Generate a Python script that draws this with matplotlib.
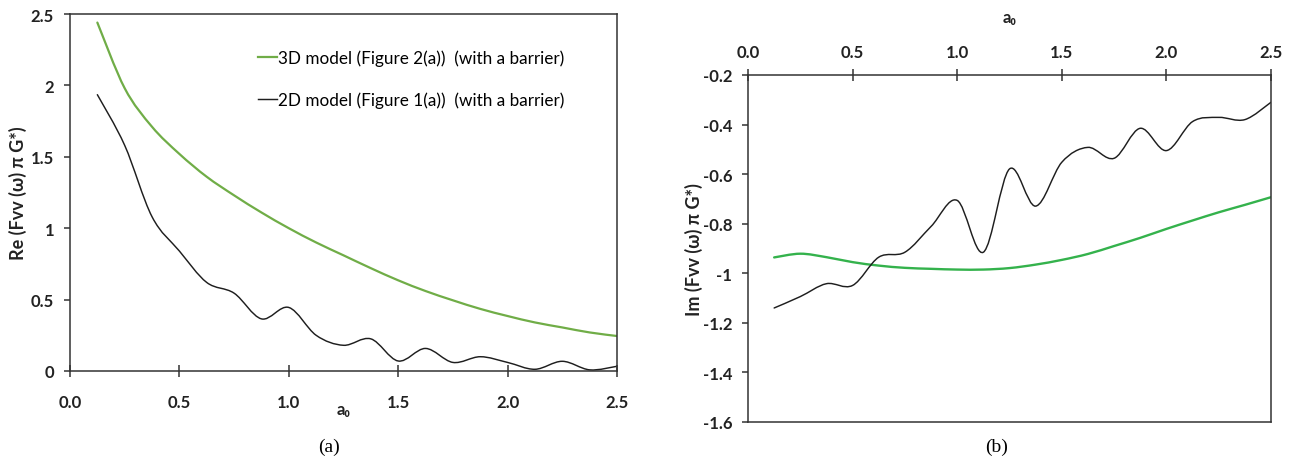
import matplotlib.pyplot as plt
from matplotlib.path import Path
from matplotlib.patches import PathPatch
from matplotlib.lines import Line2D

# dimensionless frequency a0 (both panels sampled at the same points)
a0 = [0.125, 0.25, 0.375, 0.5, 0.625, 0.75, 0.875, 1.0, 1.125, 1.25,
      1.375, 1.5, 1.625, 1.75, 1.875, 2.0, 2.125, 2.25, 2.375, 2.5]

# (a) real part
re_3d = [2.44, 1.98, 1.71, 1.52, 1.36, 1.23, 1.11, 1.0, 0.9, 0.81,
         0.72, 0.635, 0.56, 0.495, 0.435, 0.385, 0.34, 0.305, 0.27, 0.245]
re_2d = [1.935, 1.58, 1.08, 0.84, 0.62, 0.545, 0.365, 0.445, 0.25, 0.18,
         0.225, 0.07, 0.158, 0.06, 0.10, 0.06, 0.012, 0.068, 0.008, 0.033]

# (b) imaginary part
im_3d = [-0.936, -0.921, -0.935, -0.955, -0.969, -0.978, -0.982, -0.985, -0.985, -0.979,
         -0.965, -0.946, -0.922, -0.89, -0.857, -0.821, -0.787, -0.754, -0.724, -0.693]
im_2d = [-1.14, -1.094, -1.042, -1.049, -0.935, -0.915, -0.811, -0.706, -0.915, -0.579,
         -0.729, -0.552, -0.492, -0.536, -0.415, -0.505, -0.388, -0.371, -0.38, -0.31]

labels = ['3D model (Figure 2(a))  (with a barrier)',
          '2D model (Figure 1(a))  (with a barrier)']

green_a = '#70ad47'
green_b = '#34b24c'
dark = '#1e1e1e'
spine_col = '#333333'
text_col = '#222222'

FONT = ['Lato', 'DejaVu Sans']
plt.rcParams['font.family'] = FONT


def smooth_line(ax, xs, ys, color, lw):
    """Excel-style smoothed line: cubic Bezier segments through the data points."""
    n = len(xs)
    verts = [(xs[0], ys[0])]
    codes = [Path.MOVETO]
    for i in range(n - 1):
        p0 = (xs[max(i - 1, 0)], ys[max(i - 1, 0)])
        p1 = (xs[i], ys[i])
        p2 = (xs[i + 1], ys[i + 1])
        p3 = (xs[min(i + 2, n - 1)], ys[min(i + 2, n - 1)])
        c1 = (p1[0] + (p2[0] - p0[0]) / 6, p1[1] + (p2[1] - p0[1]) / 6)
        c2 = (p2[0] - (p3[0] - p1[0]) / 6, p2[1] - (p3[1] - p1[1]) / 6)
        verts += [c1, c2, p2]
        codes += [Path.CURVE4] * 3
    patch = PathPatch(Path(verts, codes), fill=False, edgecolor=color, lw=lw,
                      transform=ax.transData, capstyle='round', joinstyle='round')
    ax.add_patch(patch)


def style_axes(ax):
    for s in ax.spines.values():
        s.set_color(spine_col)
        s.set_linewidth(1.1)
    ax.tick_params(axis='y', direction='out', length=4.5, width=1.1, color=spine_col,
                   labelsize=12, pad=7)
    ax.tick_params(axis='x', direction='inout', length=9, width=1.1, color=spine_col,
                   labelsize=12)
    for t in ax.get_xticklabels() + ax.get_yticklabels():
        t.set_fontweight('bold')
        t.set_color(text_col)


fig = plt.figure(figsize=(12.93, 4.64), dpi=100)

# ---- (a) real part ----
ax_a = fig.add_axes([70 / 1293, 92 / 464, 547 / 1293, 357 / 464])
smooth_line(ax_a, a0, re_3d, green_a, 1.6)
smooth_line(ax_a, a0, re_2d, dark, 1.05)
ax_a.set_xlim(0, 2.5)
ax_a.set_ylim(0, 2.5)
ax_a.set_xticks([0, 0.5, 1.0, 1.5, 2.0, 2.5])
ax_a.set_xticklabels(['{:.1f}'.format(v) for v in ax_a.get_xticks()])
ax_a.set_yticks([0, 0.5, 1, 1.5, 2, 2.5])
ax_a.set_yticklabels(['{:g}'.format(v) for v in ax_a.get_yticks()])
style_axes(ax_a)
ax_a.tick_params(axis='x', pad=12)
ax_a.set_ylabel('Re (Fvv (ω) π G*)', fontsize=13, fontweight='bold', color=text_col)
ax_a.yaxis.set_label_coords((27 - 70) / 547, 0.5)
ax_a.text(0.5, (372 - 410) / 357, 'a₀', transform=ax_a.transAxes, ha='center', va='center',
          fontsize=12, fontweight='bold', color=text_col)

handles = [Line2D([], [], color=green_a, lw=1.6), Line2D([], [], color=dark, lw=1.05)]
ax_a.legend(handles, labels, loc='upper left', bbox_to_anchor=((258 - 70) / 547, 0.9),
            frameon=False, fontsize=12.3, handlelength=1.1, handletextpad=0.08,
            labelspacing=1.45, borderpad=0, borderaxespad=0)

# ---- (b) imaginary part ----
ax_b = fig.add_axes([748 / 1293, 41 / 464, 523 / 1293, 347 / 464])
smooth_line(ax_b, a0, im_3d, green_b, 1.7)
smooth_line(ax_b, a0, im_2d, dark, 1.05)
ax_b.set_xlim(0, 2.5)
ax_b.set_ylim(-1.6, -0.2)
ax_b.xaxis.tick_top()
ax_b.set_xticks([0, 0.5, 1.0, 1.5, 2.0, 2.5])
ax_b.set_xticklabels(['{:.1f}'.format(v) for v in ax_b.get_xticks()])
yt = [-1.6, -1.4, -1.2, -1.0, -0.8, -0.6, -0.4, -0.2]
ax_b.set_yticks(yt)
ax_b.set_yticklabels(['{:g}'.format(v) for v in yt])
style_axes(ax_b)
ax_b.tick_params(axis='x', pad=6)
ax_b.set_ylabel('Im (Fvv (ω) π G*)', fontsize=13, fontweight='bold', color=text_col)
ax_b.yaxis.set_label_coords((703 - 748) / 523, 0.5)
ax_b.text(0.5, (423 - 18) / 347, 'a₀', transform=ax_b.transAxes, ha='center', va='center',
          fontsize=12, fontweight='bold', color=text_col)

# panel captions
fig.text(329 / 1293, 1 - 447 / 464, '(a)', family='Liberation Serif', fontsize=14,
         ha='center', va='center')
fig.text(997 / 1293, 1 - 447 / 464, '(b)', family='Liberation Serif', fontsize=14,
         ha='center', va='center')

fig.savefig('out.png', dpi=100)
